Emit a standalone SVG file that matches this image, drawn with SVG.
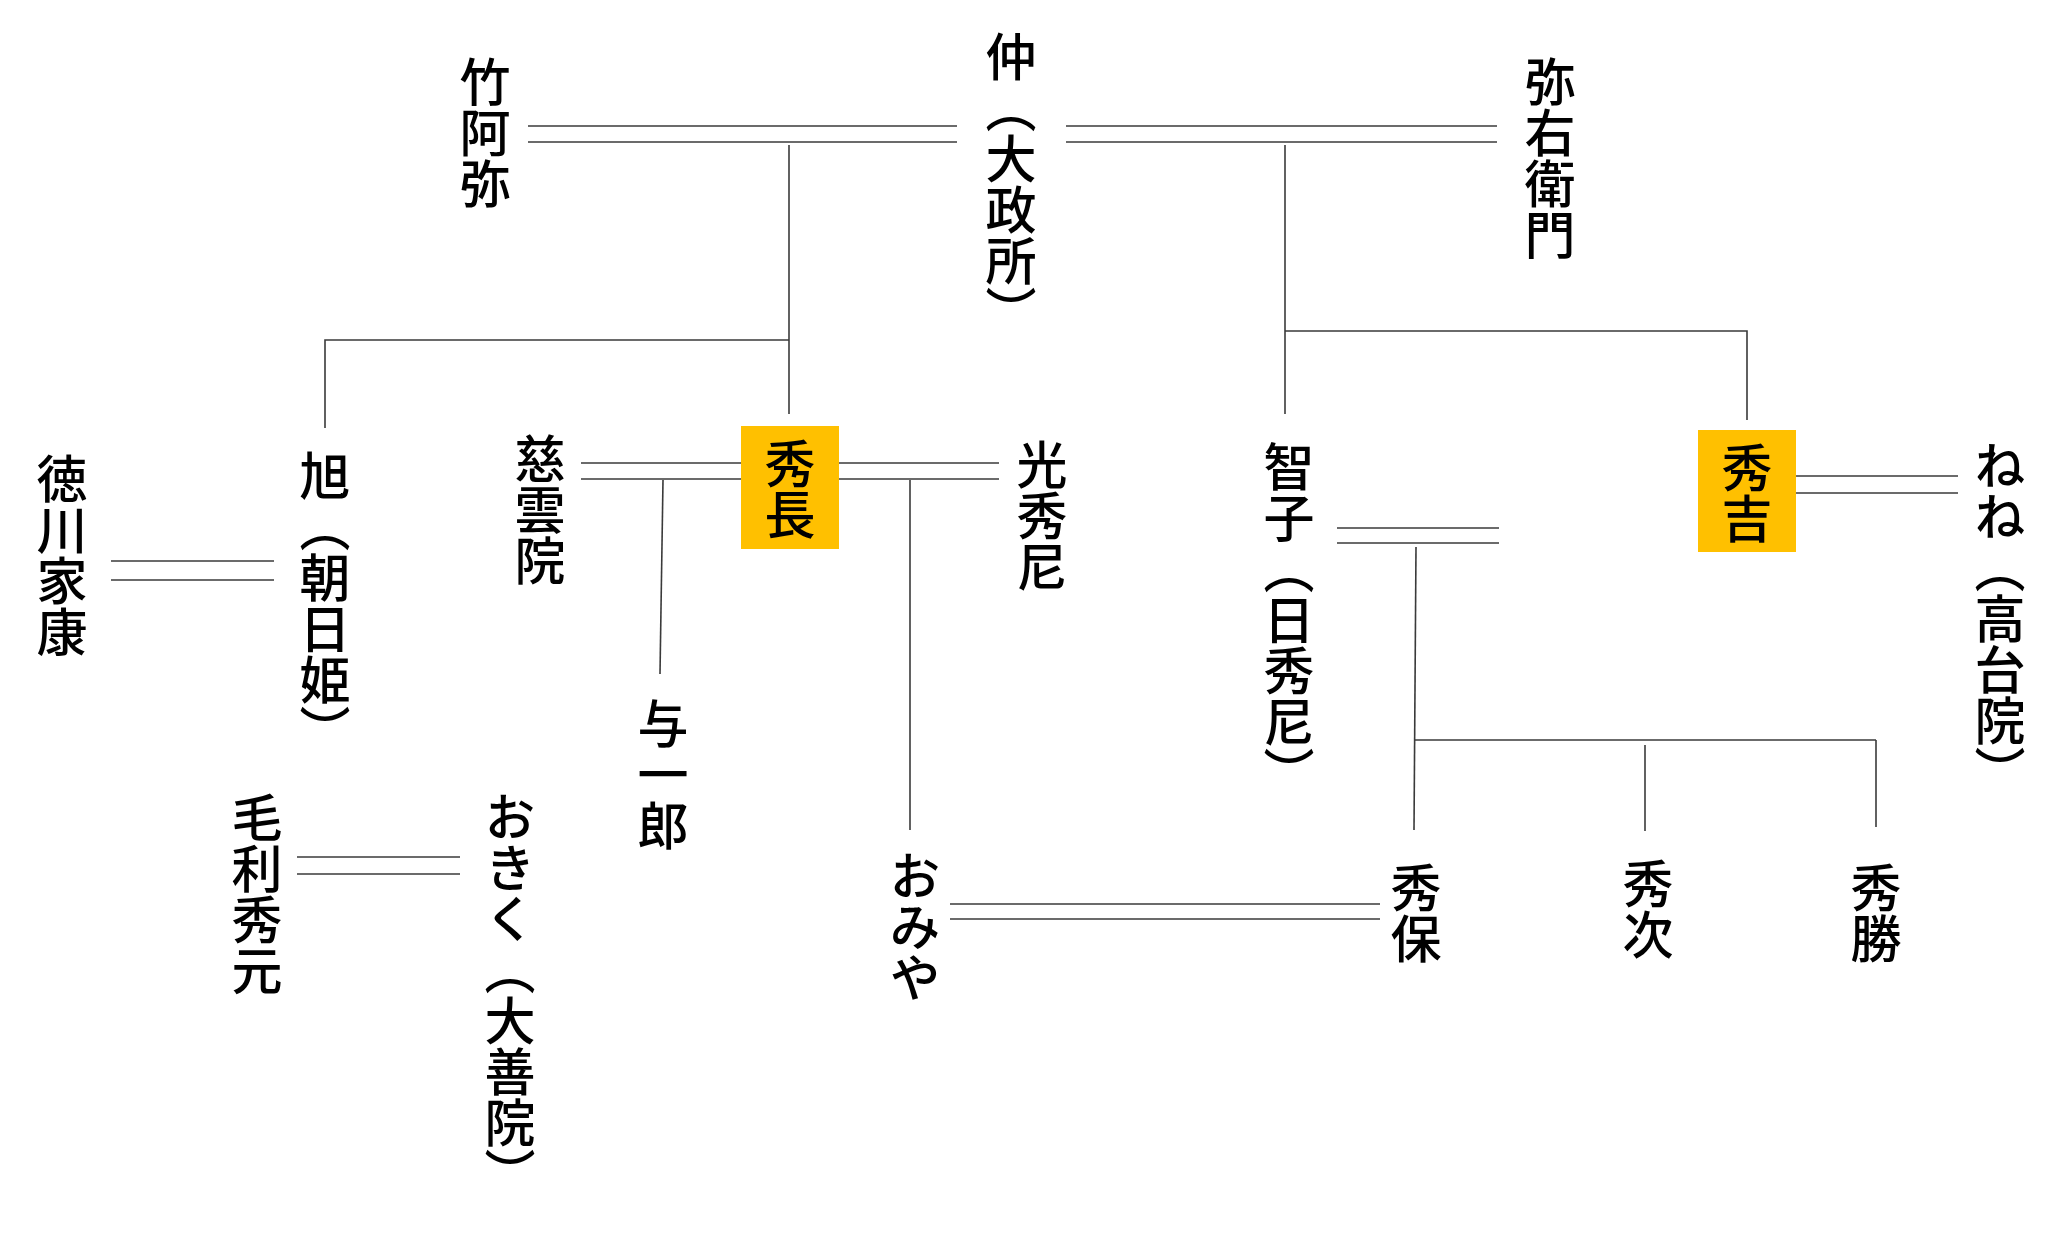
<svg xmlns="http://www.w3.org/2000/svg" width="2048" height="1244" viewBox="0 0 2048 1244">
<style>
  .t { font-family: "Noto Sans CJK JP", "Noto Sans CJK SC", sans-serif; font-size: 51px; font-weight: 500; fill: #000; writing-mode: vertical-rl; }
  .ln { stroke: #3a3a3a; stroke-width: 1.6; fill: none; }
  .box { fill: #FFC000; }
</style>
<rect width="2048" height="1244" fill="#ffffff"/>
<g id="connectors">
  <line class="ln" x1="528" y1="126" x2="957" y2="126"/>
  <line class="ln" x1="528" y1="142" x2="957" y2="142"/>
  <line class="ln" x1="1066" y1="126" x2="1497" y2="126"/>
  <line class="ln" x1="1066" y1="142" x2="1497" y2="142"/>
  <line class="ln" x1="789" y1="145" x2="789" y2="414"/>
  <polyline class="ln" points="789,340 325,340 325,428"/>
  <line class="ln" x1="1285" y1="145" x2="1285" y2="414"/>
  <polyline class="ln" points="1285,331 1747,331 1747,420"/>
  <line class="ln" x1="111" y1="561" x2="274" y2="561"/>
  <line class="ln" x1="111" y1="580" x2="274" y2="580"/>
  <line class="ln" x1="581" y1="463" x2="741" y2="463"/>
  <line class="ln" x1="581" y1="479" x2="741" y2="479"/>
  <line class="ln" x1="839" y1="463" x2="999" y2="463"/>
  <line class="ln" x1="839" y1="479" x2="999" y2="479"/>
  <line class="ln" x1="663" y1="480" x2="660" y2="674"/>
  <line class="ln" x1="910" y1="480" x2="910" y2="830"/>
  <line class="ln" x1="1337" y1="528" x2="1499" y2="528"/>
  <line class="ln" x1="1337" y1="543" x2="1499" y2="543"/>
  <line class="ln" x1="1416" y1="547" x2="1414" y2="830"/>
  <line class="ln" x1="1414" y1="740" x2="1876" y2="740"/>
  <line class="ln" x1="1645" y1="745" x2="1645" y2="831"/>
  <line class="ln" x1="1876" y1="740" x2="1876" y2="827"/>
  <line class="ln" x1="1796" y1="476" x2="1958" y2="476"/>
  <line class="ln" x1="1796" y1="493" x2="1958" y2="493"/>
  <line class="ln" x1="297" y1="857" x2="460" y2="857"/>
  <line class="ln" x1="297" y1="874" x2="460" y2="874"/>
  <line class="ln" x1="950" y1="904" x2="1380" y2="904"/>
  <line class="ln" x1="950" y1="919" x2="1380" y2="919"/>
</g>
<g id="n-chikuami"><text class="t" x="485" y="56">竹阿弥</text></g>
<g id="n-naka"><text class="t" x="1011" y="31">仲（大政所）</text></g>
<g id="n-yaemon"><text class="t" x="1550" y="56">弥右衛門</text></g>
<g id="n-asahi"><text class="t" x="325" y="450">旭（朝日姫）</text></g>
<g id="n-ieyasu"><text class="t" x="62" y="453">徳川家康</text></g>
<g id="n-jiunin"><text class="t" x="540" y="433">慈雲院</text></g>
<g id="n-hidenaga"><rect class="box" x="741" y="426" width="98" height="123"/><text class="t" x="790" y="438">秀長</text></g>
<g id="n-koshuni"><text class="t" x="1042" y="439">光秀尼</text></g>
<g id="n-tomo"><text class="t" x="1289" y="441">智子（日秀尼）</text></g>
<g id="n-hideyoshi"><rect class="box" x="1698" y="430" width="98" height="122"/><text class="t" x="1747" y="442">秀吉</text></g>
<g id="n-nene"><text class="t" x="2000" y="440">ねね（高台院）</text></g>
<g id="n-yoichiro"><text class="t" x="663" y="698">与一郎</text></g>
<g id="n-mori"><text class="t" x="257" y="792">毛利秀元</text></g>
<g id="n-okiku"><text class="t" x="510" y="791">おきく（大善院）</text></g>
<g id="n-omiya"><text class="t" x="915" y="850">おみや</text></g>
<g id="n-hideyasu"><text class="t" x="1416" y="862">秀保</text></g>
<g id="n-hidetsugu"><text class="t" x="1648" y="858">秀次</text></g>
<g id="n-hidekatsu"><text class="t" x="1876" y="862">秀勝</text></g>
</svg>
